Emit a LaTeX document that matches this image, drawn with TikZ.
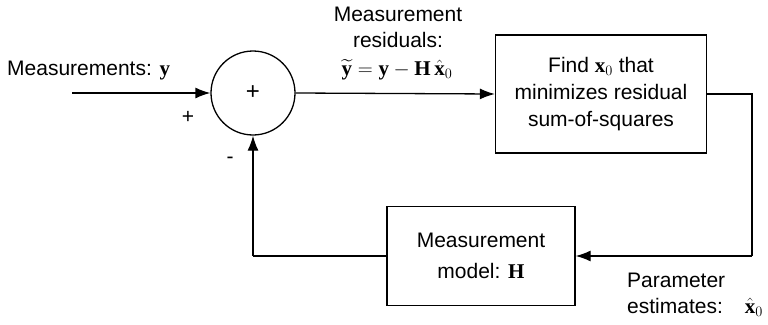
\documentclass[tikz,border=0pt]{standalone}
\usepackage{amsmath}
\usepackage[no-math]{fontspec}
\setmainfont{Liberation Sans}
\newfontfamily\serifbf{Liberation Serif}
\usetikzlibrary{arrows.meta}
\newcommand{\bv}[1]{\text{\serifbf\bfseries #1}}
\begin{document}
\begin{tikzpicture}[x=1pt,y=-1pt,
  every node/.style={font=\fontsize{21}{25}\selectfont, inner sep=0pt},
  blk/.style={draw, line width=1.3pt, minimum width=#1, align=center},
  conn/.style={line width=1.3pt, -{Latex[length=15pt,width=11pt]}},
  wire/.style={line width=1.3pt},
  lbl/.style={align=center}]
\useasboundingbox (0,0) rectangle (768,324);
\coordinate (in) at (72,93);
\node[draw, circle, line width=1.3pt, minimum size=84pt, font=\fontsize{24}{28}\selectfont] (sum) at (253,93) {+};
\node[blk=211pt, minimum height=118pt] (find) at (601,94) {Find $\bv{x}_0$ that\\[2pt] minimizes residual\\[2pt] sum-of-squares};
\node[blk=188pt, minimum height=99pt] (model) at (481,256) {Measurement\\[6pt] model: $\bv{H}$};
\coordinate (c1) at (752,94);
\coordinate (c2) at (752,256);
\coordinate (c3) at (253,256);
\draw[conn] (in) -- (sum.west);
\draw[conn] (sum.east) -- (find.west);
\draw[wire] (find.east) -- (c1) -- (c2);
\draw[conn] (c2) -- (model.east);
\draw[wire] (model.west) -- (c3);
\draw[conn] (c3) -- (sum.south);
\node[anchor=west] (lin) at (7,71) {Measurements: $\bv{y}$};
\node (plus) at (188,117) {+};
\node (minus) at (230,160) {-};
\node[lbl] (res) at (398,27) {Measurement\\[1pt] residuals:};
\node (eq) at (397,70) {$\widetilde{\bv{y}} = \bv{y} - \bv{H}\,\hat{\bv{x}}_0$};
\node[anchor=west, align=left] (par) at (627,295) {Parameter\\[1pt] estimates:\hspace{22pt}$\hat{\bv{x}}_0$};
\end{tikzpicture}
\end{document}
